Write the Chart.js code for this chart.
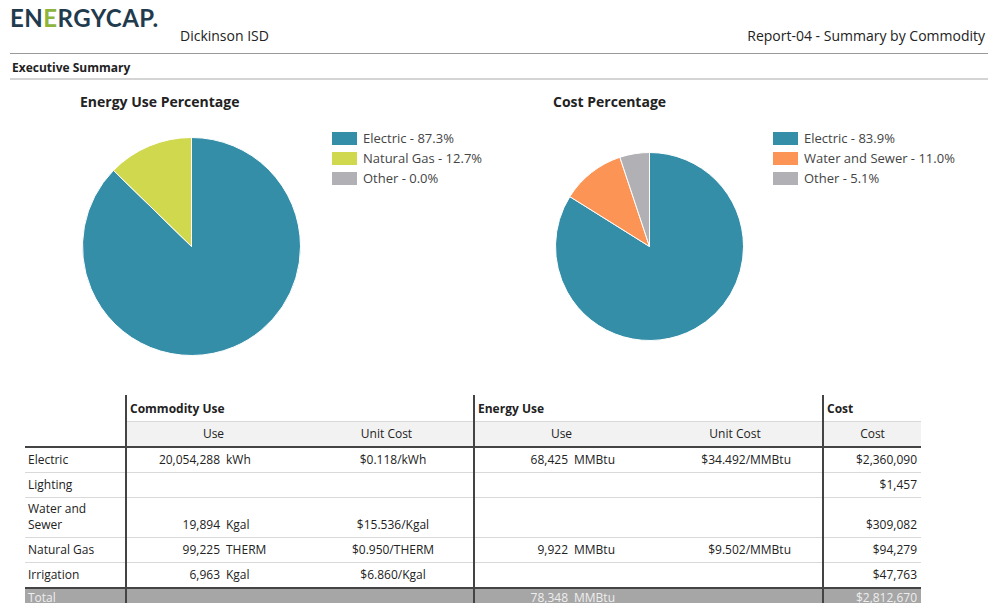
<!DOCTYPE html>
<html>
<head>
<meta charset="utf-8">
<script src="https://cdn.jsdelivr.net/npm/chart.js@4.4.0/dist/chart.umd.min.js"></script>
<style>
    body { margin: 0; width: 988px; height: 603px; overflow: hidden; background: #fff; font-family: "Open Sans", "Noto Sans", sans-serif; color: #222; position: relative; }
    .abs { position: absolute; }
    #logo { left: 10px; top: 3px; font-family: Lato, sans-serif; font-weight: 700; font-size: 24px; letter-spacing: 0.5px; color: #1f3b4d; }
    #logo .g { color: #8db53c; }
    #client { left: 180px; top: 26px; font-size: 14px; }
    #report { right: 3px; top: 26px; font-size: 14px; }
    #line1 { left: 10px; top: 53px; width: 978px; height: 1px; background: #9a9a9a; }
    #execSum { left: 12px; top: 59px; font-size: 12px; font-weight: 700; }
    #line2 { left: 10px; top: 78px; width: 978px; height: 2px; background: #d4d4d4; }
    .ctitle { font-size: 14px; font-weight: 700; top: 92px; }
    .legend { font-size: 13px; color: #444; }
    .legend div { height: 20px; line-height: 14px; white-space: nowrap; }
    .legend span.box { display: inline-block; width: 25px; height: 13px; vertical-align: -2px; margin-right: 6px; }
    table { position: absolute; left: 25px; top: 395px; border-collapse: collapse; table-layout: fixed; width: 896px; font-size: 12px; }
    td { padding: 0 3px 4px 3px; border-bottom: 1px solid #d9d9d9; vertical-align: bottom; height: 20px; white-space: nowrap; overflow: hidden; }
    td.lab { white-space: normal; line-height: 16px; }
    .vl { border-left: 2px solid #444; }
    tr.h1 td { height: 22px; font-weight: 700; border-bottom: 1px solid #d9d9d9; }
    tr.h1 td.first { border-bottom: none; }
    tr.h2 td { height: 20px; text-align: center; border-bottom: 2px solid #444; }
    tr.h2 td.g { background: #f2f2f2; }
    tr.tall td { height: 35px; }
    tr.total td { background: #a6a6a6; color: #eeeeee; border-bottom: none; border-top: 2px solid #444; height: 14px; padding-bottom: 2px; }
    .num { display: inline-block; width: 90px; text-align: right; margin-right: 6px; }
    td.uc { text-align: center; padding-left: 16px; }
    td.ue { text-align: right; padding-right: 31px; }
    td.cost { text-align: right; padding-right: 4px; }
</style>
</head>
<body>
<div id="logo" class="abs">EN<span class="g">E</span>RGYCAP.</div>
<div id="client" class="abs">Dickinson ISD</div>
<div id="report" class="abs">Report-04 - Summary by Commodity</div>
<div id="line1" class="abs"></div>
<div id="execSum" class="abs">Executive Summary</div>
<div id="line2" class="abs"></div>

<div class="abs ctitle" style="left:80px">Energy Use Percentage</div>
<div class="abs ctitle" style="left:553px">Cost Percentage</div>

<canvas id="energyChart" class="abs" width="219" height="219" style="left:82px; top:137px"></canvas>
<canvas id="costChart" class="abs" width="189" height="189" style="left:555px; top:152px"></canvas>
<div id="energyLegend" class="abs legend" style="left:332px; top:131px"></div>
<div id="costLegend" class="abs legend" style="left:773px; top:131px"></div>

<table>
    <colgroup>
        <col style="width:101px"><col style="width:174px"><col style="width:174px">
        <col style="width:174px"><col style="width:175px"><col style="width:98px">
    </colgroup>
    <tbody id="tableBody">
        <tr class="h1">
            <td class="first"></td>
            <td class="vl" colspan="2">Commodity Use</td>
            <td class="vl" colspan="2">Energy Use</td>
            <td class="vl">Cost</td>
        </tr>
        <tr class="h2">
            <td></td>
            <td class="vl g">Use</td><td class="g">Unit Cost</td>
            <td class="vl g">Use</td><td class="g">Unit Cost</td>
            <td class="vl g">Cost</td>
        </tr>
    </tbody>
</table>

<script>
// pie data
const energyLabels = ["Electric", "Natural Gas", "Other"];
const energyPct = [87.3, 12.7, 0.0];
const energyColors = ["#358ea8", "#d0d84e", "#b1b0b5"];

const costLabels = ["Electric", "Water and Sewer", "Other"];
const costPct = [83.9, 11.0, 5.1];
const costColors = ["#358ea8", "#fc9456", "#b1b0b5"];

// table data
const rowNames = ["Electric", "Lighting", "Water and Sewer", "Natural Gas", "Irrigation"];
const commodityUse = ["20,054,288", "", "19,894", "99,225", "6,963"];
const commodityUnit = ["kWh", "", "Kgal", "THERM", "Kgal"];
const commodityUnitCost = ["$0.118/kWh", "", "$15.536/Kgal", "$0.950/THERM", "$6.860/Kgal"];
const energyUse = ["68,425", "", "", "9,922", ""];
const energyUnitCost = ["$34.492/MMBtu", "", "", "$9.502/MMBtu", ""];
const costValues = ["$2,360,090", "$1,457", "$309,082", "$94,279", "$47,763"];
const totalEnergyUse = "78,348";
const totalCost = "$2,812,670";

function drawPie(id, labels, values, colors) {
    new Chart(document.getElementById(id), {
        type: 'pie',
        data: {
            labels: labels,
            datasets: [{
                data: values,
                backgroundColor: colors,
                borderColor: '#ffffff',
                borderWidth: 1,
                hoverOffset: 0
            }]
        },
        options: {
            responsive: false,
            animation: false,
            events: [],
            plugins: {
                legend: { display: false },
                tooltip: { enabled: false }
            }
        }
    });
}

function buildLegend(id, labels, values, colors) {
    let html = "";
    labels.forEach((l, i) => {
        html += '<div><span class="box" style="background:' + colors[i] + '"></span>' + l + ' - ' + values[i].toFixed(1) + '%</div>';
    });
    document.getElementById(id).innerHTML = html;
}

function useCell(num, unit, cls) {
    if (!num) return '<td class="' + cls + '"></td>';
    return '<td class="' + cls + '"><span class="num">' + num + '</span>' + unit + '</td>';
}

function buildTable() {
    let html = "";
    rowNames.forEach((name, i) => {
        html += '<tr' + (name.length > 12 ? ' class="tall"' : '') + '>';
        html += '<td class="lab">' + name + '</td>';
        html += useCell(commodityUse[i], commodityUnit[i], "vl");
        html += '<td class="uc">' + commodityUnitCost[i] + '</td>';
        html += useCell(energyUse[i], "MMBtu", "vl");
        html += '<td class="ue">' + energyUnitCost[i] + '</td>';
        html += '<td class="vl cost">' + costValues[i] + '</td>';
        html += '</tr>';
    });
    html += '<tr class="total"><td>Total</td><td class="vl"></td><td></td>';
    html += useCell(totalEnergyUse, "MMBtu", "vl") + '<td></td>';
    html += '<td class="vl cost">' + totalCost + '</td></tr>';
    document.getElementById("tableBody").insertAdjacentHTML("beforeend", html);
}

drawPie("energyChart", energyLabels, energyPct, energyColors);
drawPie("costChart", costLabels, costPct, costColors);
buildLegend("energyLegend", energyLabels, energyPct, energyColors);
buildLegend("costLegend", costLabels, costPct, costColors);
buildTable();
</script>
</body>
</html>
